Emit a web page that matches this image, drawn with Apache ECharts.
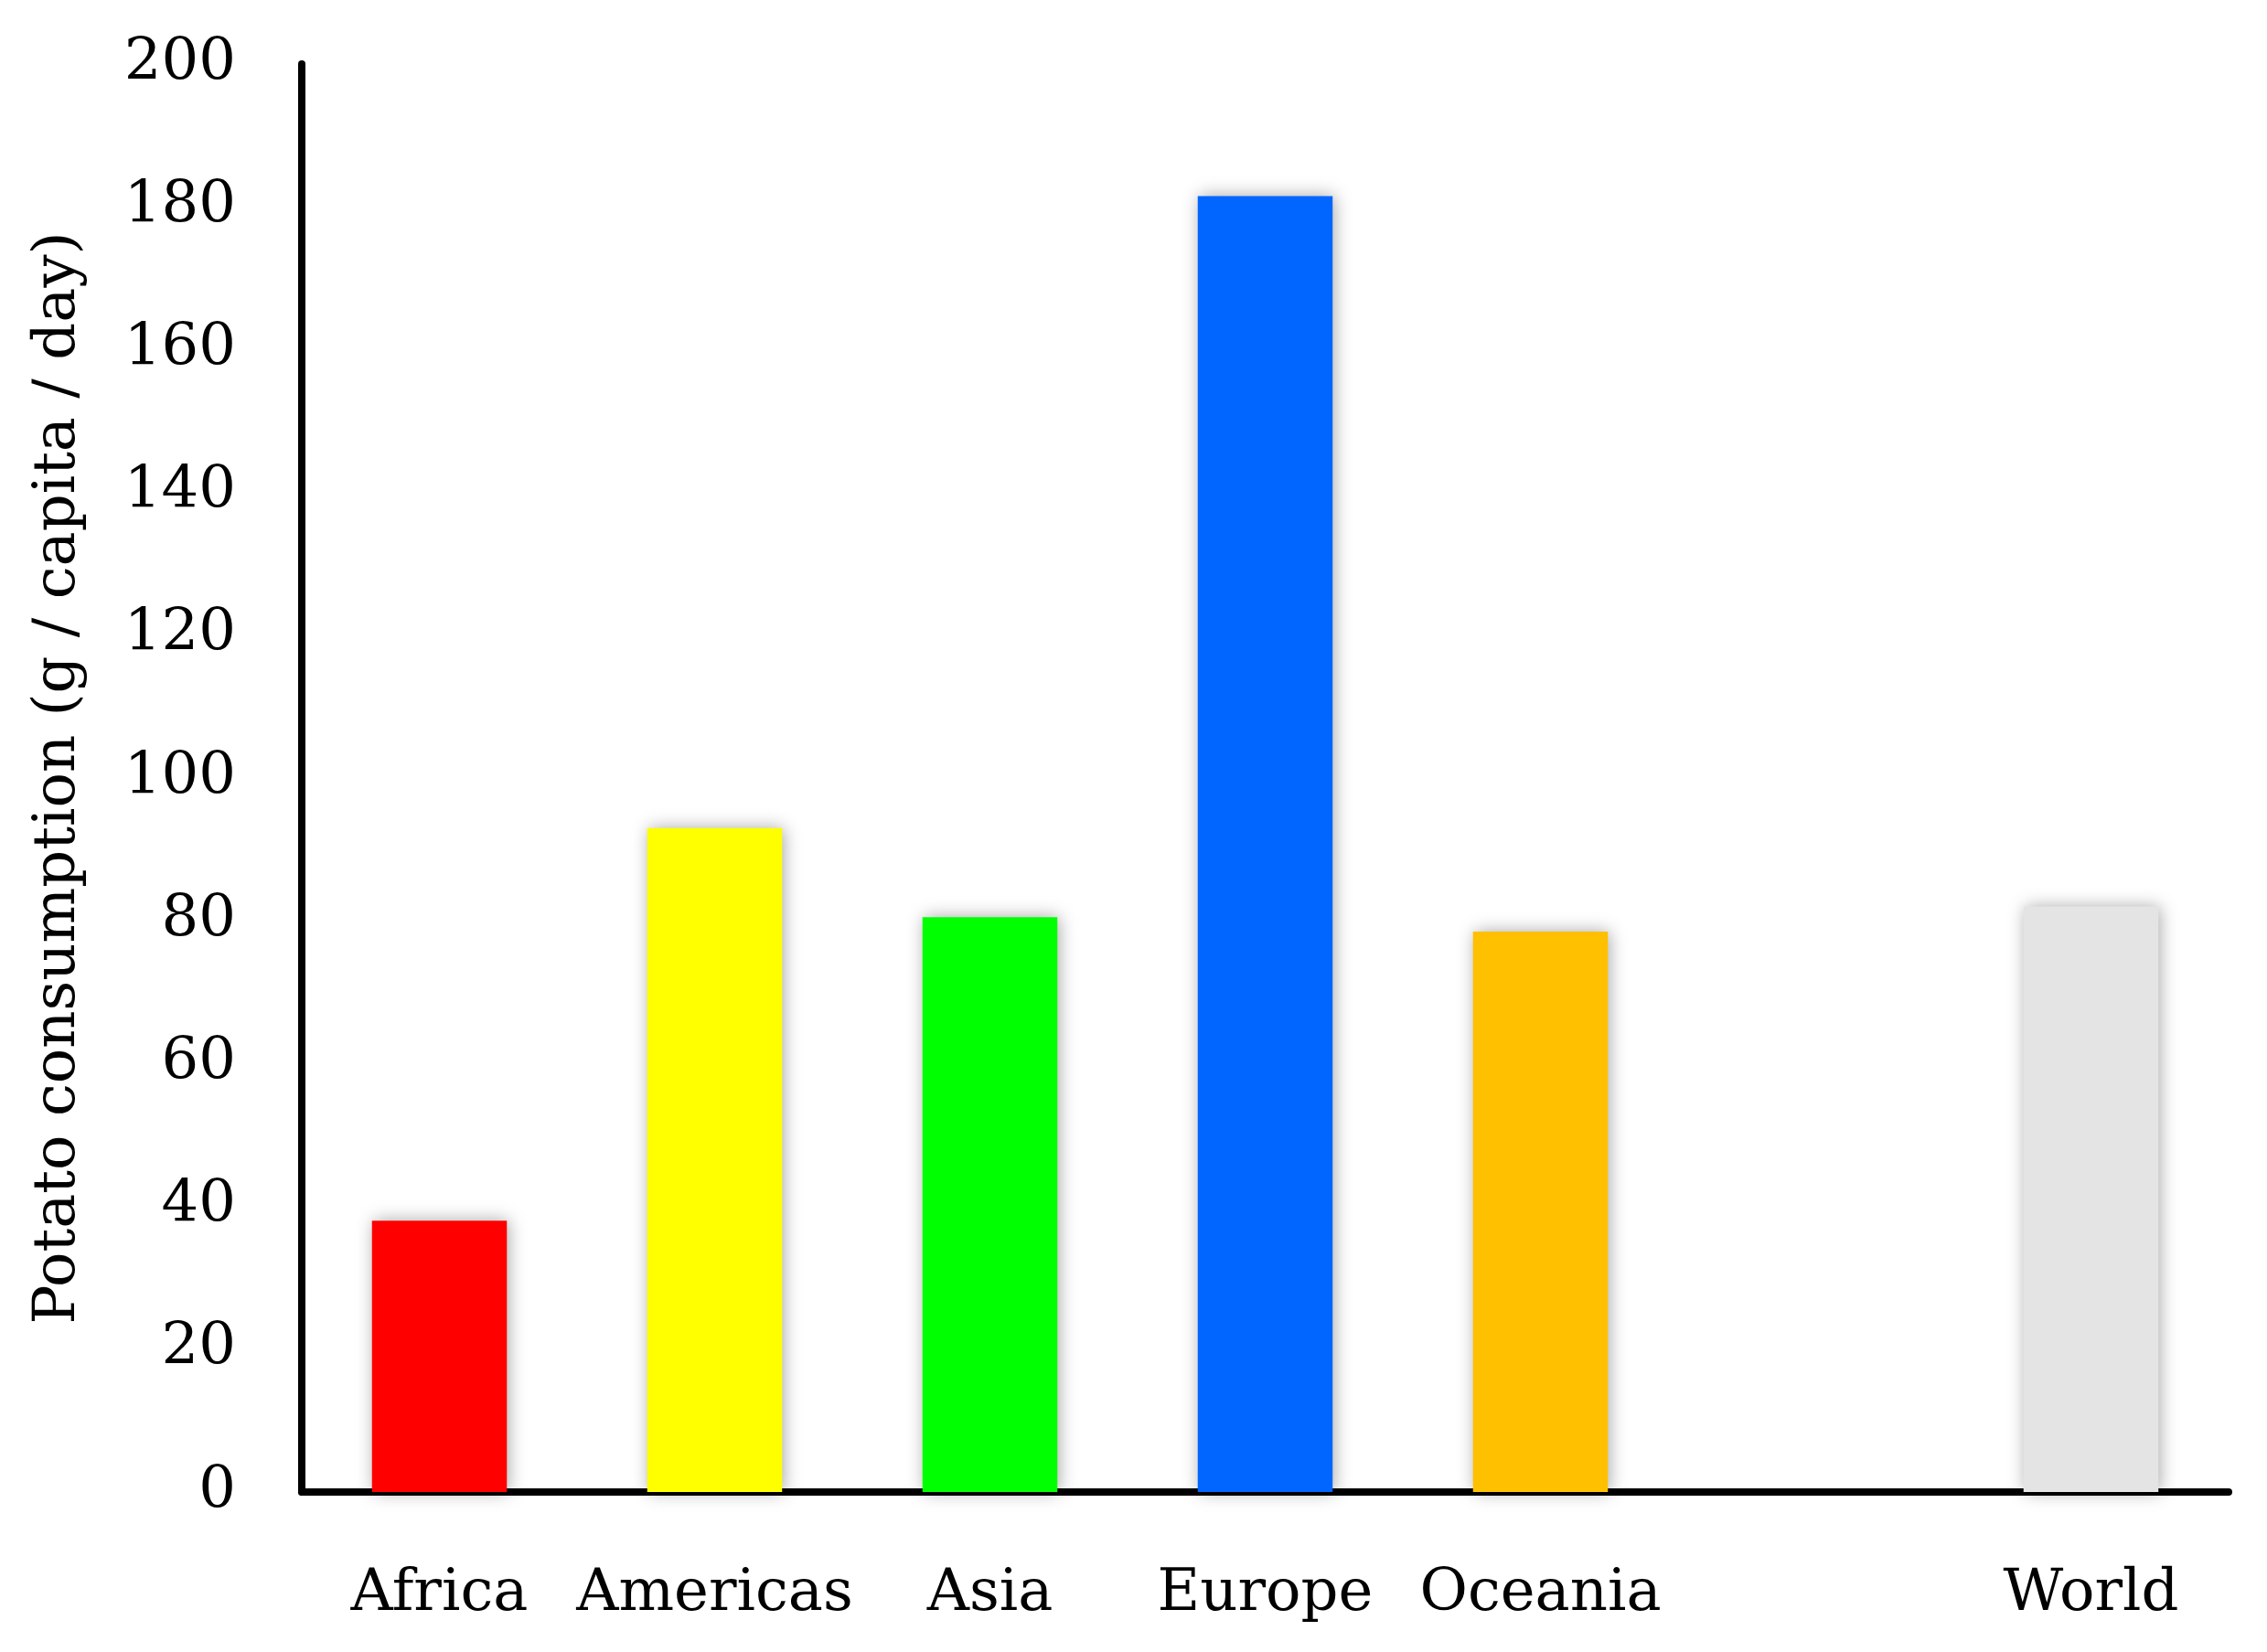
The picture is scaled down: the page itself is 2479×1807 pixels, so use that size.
<!DOCTYPE html>
<html>
<head>
<meta charset="utf-8">
<script src="https://cdn.jsdelivr.net/npm/echarts@6/dist/echarts.min.js"></script>
<style>
  html, body { margin: 0; padding: 0; background: #fff; }
  #chart { width: 2479px; height: 1807px; }
</style>
</head>
<body>
<div id="chart"></div>
<script>
// regions, with an empty slot before World
const categories = ["Africa", "Americas", "Asia", "Europe", "Oceania", "", "World"];
const consumption = [38, 93, 80.5, 181.5, 78.5, null, 82];
const barColors = ["#ff0000", "#ffff00", "#00ff00", "#0066ff", "#ffc000", "#ffffff", "#e4e4e4"];
const yTicks = { min: 0, max: 200, interval: 20 };

let chart = echarts.init(document.getElementById("chart"));

let option = {
  backgroundColor: "#ffffff",
  animation: false,
  textStyle: { fontFamily: "DejaVu Serif" },
  grid: {
    left: 330,
    right: 42,
    top: 70,
    bottom: 175,
    containLabel: false,
  },
  xAxis: {
    type: "category",
    data: categories,
    axisLine: { show: true, lineStyle: { color: "#000", width: 8 } },
    axisTick: { show: false },
    axisLabel: {
      color: "#000",
      fontSize: 64,
      margin: 80,
      interval: 0,
    },
  },
  yAxis: {
    type: "value",
    min: yTicks.min,
    max: yTicks.max,
    interval: yTicks.interval,
    name: "Potato consumption (g / capita / day)",
    nameLocation: "middle",
    nameGap: 234,
    nameTextStyle: { color: "#000", fontSize: 64 },
    axisLine: { show: true, lineStyle: { color: "#000", width: 8 } },
    axisTick: { show: false },
    splitLine: { show: false },
    axisLabel: {
      color: "#000",
      fontSize: 64,
      margin: 72,
    },
  },
  series: [
    {
      type: "bar",
      barWidth: "49%",
      data: consumption.map((v, i) => ({
        value: v,
        itemStyle: {
          color: barColors[i],
          shadowColor: "rgba(0,0,0,0.35)",
          shadowBlur: 18,
          shadowOffsetX: 2,
          shadowOffsetY: 0,
        },
      })),
    },
  ],
};
option && chart.setOption(option);
</script>
</body>
</html>
